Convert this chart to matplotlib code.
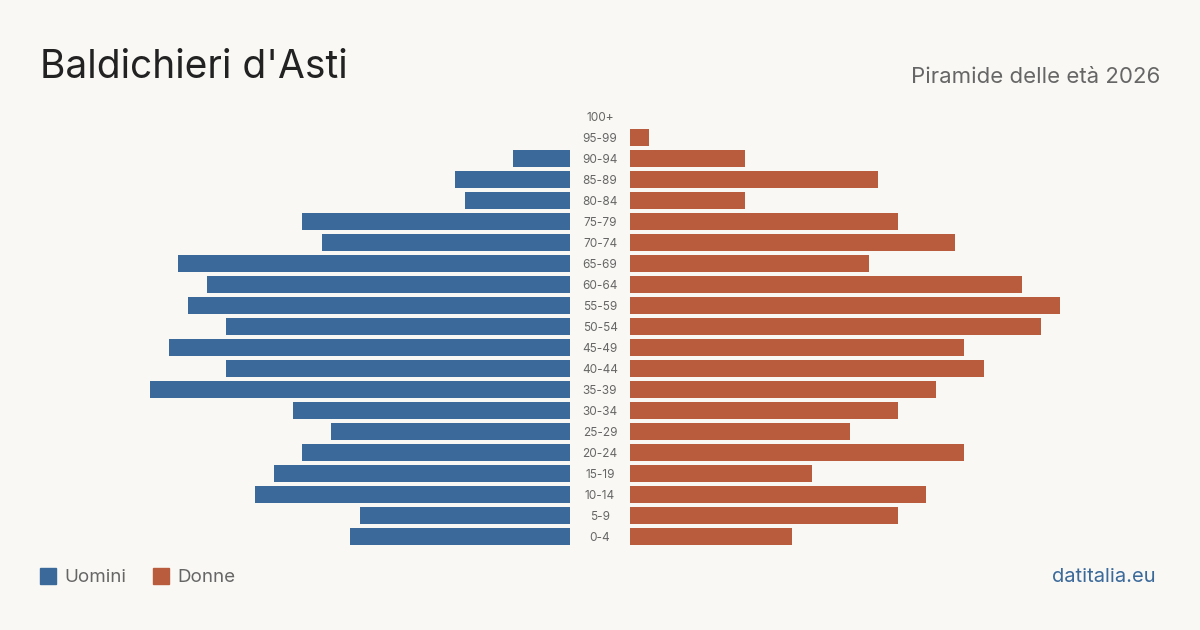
import matplotlib.pyplot as plt

# age groups, top to bottom
ages = ["100+", "95-99", "90-94", "85-89", "80-84", "75-79", "70-74", "65-69",
        "60-64", "55-59", "50-54", "45-49", "40-44", "35-39", "30-34", "25-29",
        "20-24", "15-19", "10-14", "5-9", "0-4"]
men = [0, 0, 6, 12, 11, 28, 26, 41, 38, 40, 36, 42, 36, 44, 29, 25, 28, 31, 33, 22, 23]
women = [0, 2, 12, 26, 12, 28, 34, 25, 41, 45, 43, 35, 37, 32, 28, 23, 35, 19, 31, 28, 17]

blue = '#3b6a9a'
red = '#b95c3d'
bg = '#f9f8f4'
grey = '#666666'

plt.rcParams['font.family'] = ['Inter', 'DejaVu Sans']

W, H = 1200, 630
fig = plt.figure(figsize=(12, 6.3), dpi=100, facecolor=bg)

# pixel layout
top_px, bot_px = 106, 547
unit = 9.555  # px per person
ax_b = 1 - bot_px / H
ax_h = (bot_px - top_px) / H

axl = fig.add_axes([100 / W, ax_b, 470 / W, ax_h])
axr = fig.add_axes([630 / W, ax_b, 470 / W, ax_h])

ypos = list(range(len(ages)))
axl.barh(ypos, men, height=0.81, color=blue)
axr.barh(ypos, women, height=0.81, color=red)

axl.set_xlim(470 / unit, 0)
axr.set_xlim(0, 470 / unit)
for ax in (axl, axr):
    ax.set_ylim(len(ages) - 0.5, -0.5)
    ax.axis('off')
    ax.set_facecolor('none')

# age labels in the center gap
for i, a in enumerate(ages):
    axr.text(-30 / unit, i + 0.05, a, ha='center', va='center', fontsize=8.5, color=grey)

fig.text(40 / W, 1 - 67 / H, "Baldichieri d'Asti", fontsize=28, color='#222222',
         ha='left', va='center')
fig.text(1160 / W, 1 - 77 / H, "Piramide delle età 2026", fontsize=16, color=grey,
         ha='right', va='center')

# legend
fig.patches.append(plt.Rectangle((40 / W, 1 - 584 / H), 16 / W, 16 / H,
                                 transform=fig.transFigure, color=blue))
fig.text(64 / W, 1 - 577 / H, "Uomini", fontsize=13.5, color=grey, ha='left', va='center')
fig.patches.append(plt.Rectangle((153 / W, 1 - 584 / H), 16 / W, 16 / H,
                                 transform=fig.transFigure, color=red))
fig.text(177 / W, 1 - 577 / H, "Donne", fontsize=13.5, color=grey, ha='left', va='center')

fig.text(1156 / W, 1 - 577 / H, "datitalia.eu", fontsize=14.5, color=blue,
         ha='right', va='center')

fig.savefig('out.png', dpi=100, facecolor=bg)
